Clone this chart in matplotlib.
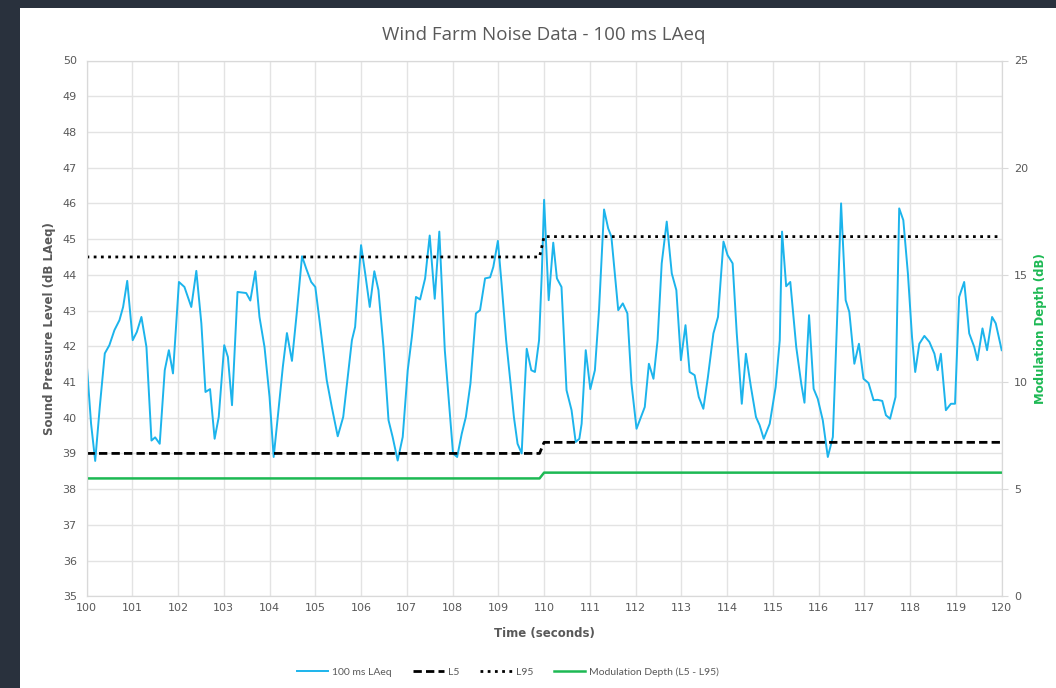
import matplotlib
matplotlib.use('Agg')
import numpy as np
import matplotlib.pyplot as plt
from matplotlib.patches import Rectangle

# 100 ms LAeq trace (time in s, level in dB)
t_laeq = [100.0, 100.1, 100.19, 100.29, 100.4, 100.5, 100.61, 100.72, 100.8, 100.89,
          101.01, 101.1, 101.2, 101.31, 101.42, 101.5, 101.6, 101.71, 101.8, 101.89,
          102.02, 102.14, 102.29, 102.4, 102.51, 102.6, 102.7, 102.8, 102.89,
          103.01, 103.09, 103.18, 103.3, 103.49, 103.58, 103.69, 103.78, 103.89,
          104.0, 104.09, 104.18, 104.29, 104.38, 104.49, 104.6, 104.71, 104.8, 104.91,
          105.0, 105.1, 105.25, 105.36, 105.49, 105.61, 105.71, 105.8, 105.87,
          106.0, 106.09, 106.19, 106.29, 106.38, 106.49, 106.6, 106.69, 106.8, 106.91,
          107.02, 107.11, 107.2, 107.29, 107.4, 107.5, 107.61, 107.71, 107.83, 107.93,
          108.01, 108.1, 108.2, 108.29, 108.39, 108.51, 108.6, 108.71, 108.82, 108.89,
          108.99, 109.07, 109.17, 109.26, 109.34, 109.42, 109.51, 109.56, 109.62,
          109.72, 109.8, 109.89, 109.95, 110.0, 110.1, 110.2, 110.28, 110.38, 110.49,
          110.6, 110.69, 110.77, 110.82, 110.91, 111.01, 111.11, 111.2, 111.31, 111.4,
          111.47, 111.62, 111.72, 111.82, 111.91, 112.02, 112.09, 112.2, 112.29, 112.39,
          112.48, 112.57, 112.68, 112.79, 112.89, 112.99, 113.09, 113.18, 113.29,
          113.38, 113.48, 113.58, 113.7, 113.8, 113.92, 114.01, 114.12, 114.21, 114.32,
          114.41, 114.52, 114.63, 114.71, 114.8, 114.93, 115.06, 115.15, 115.2, 115.29,
          115.38, 115.51, 115.62, 115.69, 115.79, 115.89, 115.98, 116.09, 116.2, 116.31,
          116.4, 116.49, 116.59, 116.67, 116.78, 116.88, 116.98, 117.09, 117.2, 117.29,
          117.39, 117.47, 117.56, 117.68, 117.76, 117.85, 117.95, 118.04, 118.11, 118.2,
          118.31, 118.42, 118.53, 118.6, 118.67, 118.78, 118.89, 118.98, 119.07, 119.18,
          119.29, 119.4, 119.47, 119.58, 119.68, 119.79, 119.87, 120.0]
laeq = [41.6, 39.83, 38.79, 40.3, 41.8, 42.03, 42.45, 42.73, 43.1, 43.83,
        42.17, 42.4, 42.82, 41.98, 39.36, 39.45, 39.27, 41.33, 41.89, 41.24,
        43.8, 43.66, 43.1, 44.11, 42.64, 40.72, 40.8, 39.41, 40.02,
        42.03, 41.7, 40.35, 43.52, 43.49, 43.28, 44.1, 42.82, 41.98,
        40.58, 38.9, 40.02, 41.42, 42.37, 41.59, 43.0, 44.52, 44.18, 43.8,
        43.66, 42.64, 41.05, 40.3, 39.48, 40.02, 41.14, 42.17, 42.54,
        44.83, 44.04, 43.1, 44.1, 43.57, 41.98, 39.93, 39.46, 38.8, 39.46,
        41.33, 42.26, 43.38, 43.31, 43.9, 45.1, 43.33, 45.21, 41.89, 40.3,
        39.0, 38.9, 39.55, 40.02, 40.95, 42.92, 43.01, 43.9, 43.93, 44.22,
        44.95, 43.76, 42.17, 41.05, 40.02, 39.27, 39.0, 40.39, 41.93,
        41.33, 41.28, 42.17, 44.04, 46.1, 43.29, 44.9, 43.9, 43.66, 40.77,
        40.21, 39.32, 39.41, 39.83, 41.89, 40.8, 41.33, 43.01, 45.83, 45.3,
        45.07, 43.01, 43.2, 42.92, 40.95, 39.69, 39.93, 40.3, 41.51, 41.09,
        42.17, 44.32, 45.49, 44.04, 43.57, 41.61, 42.59, 41.28, 41.19,
        40.58, 40.25, 41.14, 42.36, 42.82, 44.93, 44.55, 44.32, 42.36, 40.39,
        41.79, 40.86, 40.02, 39.79, 39.41, 39.83, 40.86, 42.17, 45.21, 43.68,
        43.8, 41.98, 40.95, 40.42, 42.87, 40.81, 40.53, 39.93, 38.9, 39.46,
        42.64, 46.0, 43.29, 42.96, 41.51, 42.07, 41.09, 40.97, 40.49, 40.5,
        40.47, 40.07, 39.97, 40.58, 45.86, 45.53, 44.04, 42.26, 41.28, 42.07,
        42.29, 42.12, 41.79, 41.33, 41.79, 40.21, 40.39, 40.39, 43.38, 43.8,
        42.36, 41.98, 41.61, 42.5, 41.89, 42.82, 42.64, 41.89]

# statistical levels (step at 110 s)
t_stat = [100.0, 109.9, 110.0, 120.0]
l5 = [39.0, 39.0, 39.31, 39.31]
l95 = [44.5, 44.5, 45.07, 45.07]
mod_depth = [5.5, 5.5, 5.77, 5.77]

grey = '#595959'
green = '#1db954'
fig = plt.figure(figsize=(10.56, 6.88), dpi=100, facecolor='#29313d')
fig.patches.append(Rectangle((20 / 1056, 0), 1 - 20 / 1056, 1 - 8 / 688,
                             transform=fig.transFigure, facecolor='white',
                             edgecolor='none', zorder=-1))

ax = fig.add_axes([86.5 / 1056, 91.7 / 688, (1001.7 - 86.5) / 1056, (596.3 - 60.5) / 688])
ax.set_facecolor('white')
ax2 = ax.twinx()

l1, = ax.plot(t_laeq, laeq, color='#1cb4ec', lw=1.4, label='100 ms LAeq', zorder=3)
l2, = ax.plot(t_stat, l5, color='black', lw=2, ls=(0, (3, 1.5)), label='L5', zorder=4)
l3, = ax.plot(t_stat, l95, color='black', lw=2, ls=(0, (1, 1.6)), label='L95', zorder=4)
l4, = ax2.plot(t_stat, mod_depth, color=green, lw=1.8, label='Modulation Depth (L5 - L95)')

ax.set_xlim(100, 120)
ax.set_ylim(35, 50)
ax2.set_ylim(0, 25)
ax.set_xticks(np.arange(100, 121, 1))
ax.set_yticks(np.arange(35, 51, 1))
ax2.set_yticks(np.arange(0, 26, 5))
ax.grid(True, color='#e3e3e3', lw=1)
ax.set_axisbelow(True)

for a in (ax, ax2):
    for s in a.spines.values():
        s.set_color('#d9d9d9')
    a.tick_params(colors=grey, labelsize=8, length=0, pad=7)
ax2.tick_params(axis='y', length=4, color='#d9d9d9', pad=5)
ax.tick_params(axis='x', pad=5)

ax.set_title('Wind Farm Noise Data - 100 ms LAeq', fontsize=13.5, color=grey, pad=15,
             fontfamily='Open Sans')
ax.set_xlabel('Time (seconds)', fontsize=8.5, color=grey, fontweight='bold', labelpad=10)
ax.set_ylabel('Sound Pressure Level (dB LAeq)', fontsize=8.5, color=grey,
              fontweight='bold', labelpad=5)
ax2.set_ylabel('Modulation Depth (dB)', fontsize=8.5, color=green,
               fontweight='bold', labelpad=4)

leg = fig.legend(handles=[l1, l2, l3, l4], loc='center', ncol=4,
                 bbox_to_anchor=(508 / 1056, 16 / 688), frameon=False,
                 handlelength=3.0, columnspacing=2.0, handletextpad=0.4,
                 prop={'family': 'Lato', 'size': 7.5})
for txt in leg.get_texts():
    txt.set_color(grey)

fig.savefig('out.png', dpi=100, facecolor=fig.get_facecolor())
